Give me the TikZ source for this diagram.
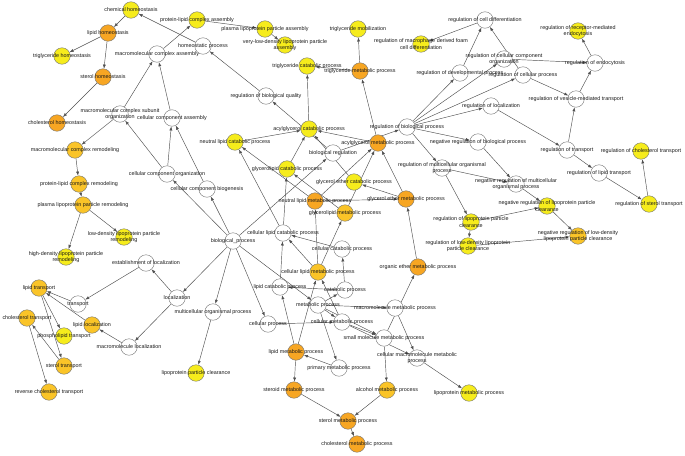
\documentclass[tikz,border=0pt]{standalone}
\usepackage{fontspec}
\setmainfont{Liberation Sans}
\usetikzlibrary{arrows.meta}
\definecolor{cO}{RGB}{247,166,35}
\definecolor{cA}{RGB}{250,196,40}
\definecolor{cY}{RGB}{246,236,28}
\definecolor{cW}{RGB}{255,255,255}
\definecolor{edgec}{RGB}{80,80,80}
\pgfdeclarelayer{back}
\pgfdeclarelayer{bg}
\pgfsetlayers{back,bg,main}
\tikzset{
  gnode/.style={circle,draw=black!55,line width=0.4pt,minimum size=16.5pt,inner sep=0pt},
  lbl/.style={font=\fontsize{5.4}{6.5}\selectfont,align=center,inner sep=0pt,text=black!90},
  edge/.style={draw=edgec,line width=0.45pt,-{Latex[length=4pt,width=3pt]}}
}
\newcommand{\gn}[5]{\node[gnode,fill=#4,label={[lbl]center:{#5}}] (#1) at (#2,#3) {};}
\newcommand{\ed}[2]{\draw[edge] (#1) -- (#2);}
\begin{document}
\begin{tikzpicture}[x=1pt,y=-1pt]
\begin{pgfonlayer}{back}
\fill[white] (0,0) rectangle (685,455);
\end{pgfonlayer}
\useasboundingbox (0,0) rectangle (685,455);
% top-left
\gn{ch}{131}{10}{cY}{chemical homeostasis}
\gn{lh}{108}{33}{cO}{lipid homeostasis}
\gn{th}{62}{56}{cY}{triglyceride homeostasis}
\gn{sh}{103}{77}{cO}{sterol homeostasis}
\gn{chh}{57}{123}{cO}{cholesterol homeostasis}
\gn{mcr}{75}{150}{cA}{macromolecular complex remodeling}
\gn{mcso}{120}{114}{cW}{macromolecular complex subunit\\organization}
\gn{mca}{157}{54}{cW}{macromolecular complex assembly}
\gn{cca}{172}{118}{cW}{cellular component assembly}
\gn{plca}{197}{20}{cY}{protein-lipid complex assembly}
\gn{plpa}{265}{29}{cY}{plasma lipoprotein particle assembly}
\gn{vldl}{285}{45}{cY}{very-low-density lipoprotein particle\\assembly}
\gn{hp}{203}{46}{cW}{homeostatic process}
\gn{tgc}{307}{66}{cY}{triglyceride catabolic process}
\gn{rbq}{266}{96}{cW}{regulation of biological quality}
\gn{agc}{309}{129}{cY}{acylglycerol catabolic process}
\gn{nlc}{235}{142}{cY}{neutral lipid catabolic process}
\gn{br}{333}{153}{cW}{biological regulation}
\gn{tgm}{358}{29}{cY}{triglyceride mobilization}
\gn{tgmp}{360}{71}{cO}{triglyceride metabolic process}
\gn{agm}{378}{143}{cO}{acylglycerol metabolic process}
% regulation
\gn{rmf}{421}{44}{cY}{regulation of macrophage derived foam\\cell differentiation}
\gn{rcd}{485}{20}{cW}{regulation of cell differentiation}
\gn{rdp}{460}{73}{cW}{regulation of developmental process}
\gn{rcco}{504}{59}{cW}{regulation of cellular component\\organization}
\gn{rcp}{523}{75}{cW}{regulation of cellular process}
\gn{rbp}{407}{127}{cW}{regulation of biological process}
\gn{rl}{491}{106}{cW}{regulation of localization}
\gn{nrbp}{478}{142}{cW}{negative regulation of biological process}
\gn{rrme}{578}{31}{cY}{regulation of receptor-mediated\\endocytosis}
\gn{re}{595}{63}{cW}{regulation of endocytosis}
\gn{rvmt}{576}{99}{cW}{regulation of vesicle-mediated transport}
\gn{rt}{567}{150}{cW}{regulation of transport}
\gn{rct}{641}{151}{cY}{regulation of cholesterol transport}
\gn{rlt}{599}{173}{cW}{regulation of lipid transport}
\gn{rst}{649}{204}{cY}{regulation of sterol transport}
\gn{nrmo}{516}{184}{cW}{negative regulation of multicellular\\organismal process}
\gn{nrlc}{547}{206}{cY}{negative regulation of lipoprotein particle\\clearance}
\gn{nrldl}{578}{236}{cA}{negative regulation of low-density\\lipoprotein particle clearance}
\gn{rmo}{442}{168}{cW}{regulation of multicellular organismal\\process}
\gn{rlc}{471}{222}{cY}{regulation of lipoprotein particle\\clearance}
\gn{rldl}{468}{246}{cY}{regulation of low-density lipoprotein\\particle clearance}
% middle
\gn{gem}{406}{199}{cO}{glycerol ether metabolic process}
\gn{oem}{418}{267}{cO}{organic ether metabolic process}
\gn{gec}{354}{182}{cY}{glycerol ether catabolic process}
\gn{glm}{345}{213}{cA}{glycerolipid metabolic process}
\gn{glc}{287}{169}{cY}{glycerolipid catabolic process}
\gn{nlm}{315}{201}{cO}{neutral lipid metabolic process}
\gn{clc}{283}{233}{cW}{cellular lipid catabolic process}
\gn{cc}{342}{249}{cW}{cellular catabolic process}
\gn{clm}{318}{272}{cA}{cellular lipid metabolic process}
\gn{lc}{280}{287}{cW}{lipid catabolic process}
\gn{bp}{233}{241}{cW}{biological\_process}
\gn{cco}{167}{174}{cW}{cellular component organization}
\gn{ccb}{207}{189}{cW}{cellular component biogenesis}
% left
\gn{plcr}{79}{184}{cA}{protein-lipid complex remodeling}
\gn{plpr}{83}{205}{cA}{plasma lipoprotein particle remodeling}
\gn{ldlr}{124}{237}{cY}{low-density lipoprotein particle\\remodeling}
\gn{hdlr}{66}{257}{cY}{high-density lipoprotein particle\\remodeling}
\gn{eol}{146}{263}{cW}{establishment of localization}
\gn{lt}{39}{288}{cA}{lipid transport}
\gn{tr}{78}{304}{cW}{transport}
\gn{loc}{177}{298}{cW}{localization}
\gn{cht}{27}{318}{cA}{cholesterol transport}
\gn{ll}{92}{325}{cA}{lipid localization}
\gn{pt}{64}{336}{cY}{phospholipid transport}
\gn{ml}{129}{347}{cW}{macromolecule localization}
\gn{st}{64}{366}{cA}{sterol transport}
\gn{rcht}{49}{392}{cA}{reverse cholesterol transport}
\gn{mop}{213}{312}{cW}{multicellular organismal process}
\gn{lpc}{196}{373}{cY}{lipoprotein particle clearance}
% bottom
\gn{cp}{268}{324}{cW}{cellular process}
\gn{lm}{296}{352}{cO}{lipid metabolic process}
\gn{stm}{294}{390}{cO}{steroid metabolic process}
\gn{pm}{339}{368}{cW}{primary metabolic process}
\gn{srm}{348}{421}{cO}{sterol metabolic process}
\gn{chm}{357}{444}{cO}{cholesterol metabolic process}
\gn{mp}{318}{305}{cW}{metabolic process}
\gn{cat}{345}{290}{cW}{catabolic process}
\gn{cmp}{342}{322}{cW}{cellular metabolic process}
\gn{mmp}{395}{308}{cW}{macromolecule metabolic process}
\gn{smm}{384}{338}{cW}{small molecule metabolic process}
\gn{cmm}{417}{358}{cW}{cellular macromolecule metabolic\\process}
\gn{alm}{387}{390}{cA}{alcohol metabolic process}
\gn{lpm}{469}{393}{cY}{lipoprotein metabolic process}
\begin{pgfonlayer}{bg}
\ed{hp}{ch}\ed{ch}{lh}\ed{lh}{th}\ed{lh}{sh}\ed{sh}{chh}
\ed{rbq}{hp}\ed{br}{rbq}
\ed{mca}{plca}\ed{plca}{plpa}\ed{plpa}{vldl}
\ed{mcso}{mca}\ed{cca}{mca}\ed{mcso}{mcr}
\ed{mcr}{plcr}\ed{plcr}{plpr}\ed{plpr}{ldlr}\ed{plpr}{hdlr}
\ed{cco}{mcso}\ed{cco}{cca}\ed{ccb}{cca}
\ed{bp}{cco}\ed{bp}{ccb}\ed{bp}{loc}\ed{loc}{eol}\ed{eol}{tr}
\ed{tr}{lt}\ed{ll}{lt}\ed{lt}{pt}\ed{lt}{st}\ed{st}{cht}\ed{cht}{rcht}
\ed{ml}{ll}\ed{loc}{ml}
\ed{bp}{mop}\ed{mop}{lpc}\ed{bp}{cp}\ed{bp}{mp}\ed{bp}{br}
\ed{br}{rbp}
\ed{rbp}{rdp}\ed{rbp}{rcp}\ed{rbp}{rcco}\ed{rbp}{rl}\ed{rbp}{nrbp}\ed{rbp}{rmo}
\ed{rdp}{rcd}\ed{rcp}{rcd}\ed{rcd}{rmf}
\ed{rcco}{re}\ed{rcp}{rvmt}\ed{rvmt}{re}\ed{re}{rrme}
\ed{rl}{rt}\ed{rt}{rvmt}\ed{rt}{rlt}\ed{rlt}{rst}\ed{rst}{rct}
\ed{rmo}{nrmo}\ed{nrbp}{nrmo}\ed{rmo}{rlc}\ed{nrmo}{nrlc}
\ed{rlc}{nrlc}\ed{rlc}{rldl}\ed{nrlc}{nrldl}\ed{rldl}{nrldl}
\ed{mp}{pm}\ed{mp}{mmp}\ed{mp}{cat}\ed{mp}{smm}\ed{cp}{cmp}\ed{mp}{cmp}
\ed{cmp}{smm}\ed{mmp}{cmm}\ed{cmp}{cmm}\ed{cmm}{lpm}
\ed{smm}{alm}\ed{alm}{srm}\ed{pm}{lm}\ed{lm}{stm}\ed{stm}{srm}\ed{srm}{chm}
\ed{lm}{clm}\ed{lm}{lc}\ed{cmp}{clm}
\ed{cat}{lc}\ed{cat}{cc}\ed{cc}{clc}\ed{lc}{clc}\ed{clm}{clc}
\ed{clm}{glm}\ed{clm}{nlm}\ed{clc}{glc}\ed{clc}{nlc}
\ed{glm}{glc}\ed{glm}{agm}\ed{nlm}{agm}\ed{nlm}{nlc}\ed{nlm}{gem}
\ed{gem}{agm}\ed{gem}{gec}\ed{gec}{agc}\ed{glc}{agc}\ed{nlc}{agc}
\ed{agm}{agc}\ed{agm}{tgmp}\ed{tgmp}{tgc}\ed{tgmp}{tgm}\ed{agc}{tgc}
\ed{oem}{gem}\ed{smm}{oem}
\end{pgfonlayer}
\end{tikzpicture}
\end{document}
